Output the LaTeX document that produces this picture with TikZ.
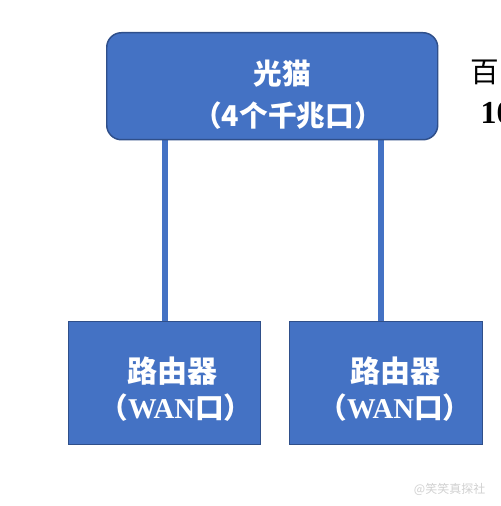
\documentclass[tikz,border=0pt]{standalone}
\usepackage{fontspec}
\setmainfont{Liberation Serif}
\newfontfamily\cjk{Noto Sans CJK SC}
\definecolor{boxfill}{HTML}{4472C4}
\definecolor{boxline}{HTML}{2F4F8A}
\begin{document}
\begin{tikzpicture}[x=0.75pt,y=-0.75pt,
  device/.style={draw=boxline,line width=1.1pt,fill=boxfill,inner sep=0pt,minimum width=#1},
  wire/.style={draw=boxfill,line width=3.8pt},
  wtext/.style={text=white,font=\cjk\bfseries\fontsize{21.5pt}{24pt}\selectfont,align=center},
  wantext/.style={text=white,font=\fontsize{21.5pt}{26pt}\selectfont\bfseries}]
\useasboundingbox (0,0) rectangle (500,506);
\clip (0,0) rectangle (500,506);
\fill[white] (0,0) rectangle (500,506);
\coordinate (l1t) at (165,139);
\coordinate (l2t) at (381,139);
\node[device=192*0.75pt,minimum height=123*0.75pt,anchor=north west] (r1) at (68,321) {};
\node[device=193*0.75pt,minimum height=123*0.75pt,anchor=north west] (r2) at (289,321) {};
\draw[wire] (l1t) -- (r1.north -| l1t);
\draw[wire] (l2t) -- (r2.north -| l2t);
\node[device=331*0.75pt,minimum height=107*0.75pt,anchor=north west,rounded corners=11pt] (gm) at (106,32) {};
\node[wtext] (t1) at (282,74) {光猫};
\node[wtext] (t2) at (288,116) {（4个千兆口）};
\node[wtext,font=\cjk\bfseries\fontsize{22.5pt}{26pt}\selectfont] (t3) at (172,371) {路由器};
\node[wantext] (t4) at (176,408) {{\cjk （}WAN{\cjk 口）}};
\node[wtext,font=\cjk\bfseries\fontsize{22.5pt}{26pt}\selectfont] (t5) at (395,371) {路由器};
\node[wantext] (t6) at (395,408) {{\cjk （}WAN{\cjk 口）}};
\node[anchor=west,font=\cjk\fontsize{21.5pt}{24pt}\selectfont] (s1) at (466,72) {百};
\node[anchor=west,font=\fontsize{24pt}{28pt}\selectfont\bfseries] (s2) at (476,113) {10};
\node[anchor=east,text=black!18,font=\cjk\fontsize{9pt}{10pt}\selectfont] (wm) at (490,489) {@笑笑真探社};
\end{tikzpicture}
\end{document}
